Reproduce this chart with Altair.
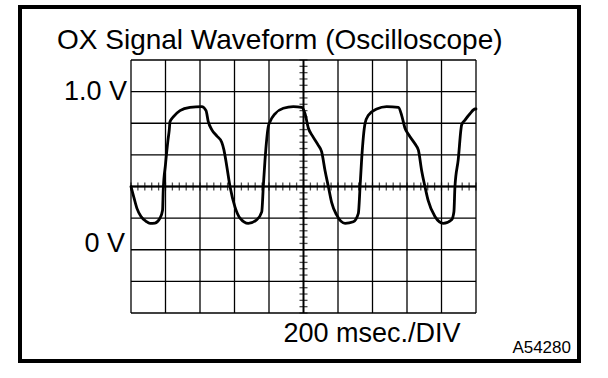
import altair as alt
import pandas as pd

# ---- data ----
time_ms = [0, 17, 35, 58, 87, 110, 139, 168, 183, 187,
           200, 214, 222, 226, 245, 284, 342, 410, 435, 448,
           468, 497, 526, 539, 555, 574, 603, 632, 680, 729,
           758, 767, 777, 796, 806, 835, 883, 941, 990, 1009,
           1028, 1052, 1086, 1105, 1125, 1144, 1163, 1192, 1241, 1289,
           1318, 1328, 1337, 1357, 1376, 1424, 1482, 1550, 1569, 1588,
           1608, 1646, 1666, 1685, 1704, 1723, 1762, 1810, 1859, 1872,
           1878, 1897, 1917, 1936, 1965, 1994, 2000]
volts = [0.40, 0.33, 0.26, 0.21, 0.18, 0.167, 0.169, 0.20, 0.25, 0.38,
         0.54, 0.69, 0.76, 0.81, 0.84, 0.88, 0.90, 0.905, 0.88, 0.81,
         0.76, 0.72, 0.68, 0.63, 0.53, 0.40, 0.27, 0.20, 0.167, 0.19,
         0.24, 0.40, 0.57, 0.78, 0.81, 0.86, 0.895, 0.905, 0.90, 0.86,
         0.77, 0.72, 0.66, 0.62, 0.50, 0.40, 0.30, 0.22, 0.167, 0.177,
         0.23, 0.40, 0.57, 0.80, 0.85, 0.89, 0.905, 0.90, 0.85, 0.77,
         0.73, 0.67, 0.63, 0.50, 0.40, 0.31, 0.21, 0.167, 0.19, 0.24,
         0.40, 0.57, 0.79, 0.82, 0.86, 0.89, 0.89]

x_grid = [0, 200, 400, 600, 800, 1000, 1200, 1400, 1600, 1800, 2000]
y_grid = [-0.4, -0.2, 0.0, 0.2, 0.4, 0.6, 0.8, 1.0, 1.2]
x_minor = [i * 40 for i in range(51)]
y_minor = [round(-0.4 + 0.04 * i, 2) for i in range(41)]
center_t = 1000
center_v = 0.4

title_text = "OX Signal Waveform (Oscilloscope)"
volt_labels = ["1.0 V", "0 V"]
volt_label_values = [1.0, 0.0]
time_div_label = "200 msec./DIV"
figure_code = "A54280"

FONT = "Liberation Sans"
xs = alt.Scale(domain=[0, 2000], nice=False, zero=False)
ys = alt.Scale(domain=[-0.4, 1.2], nice=False, zero=False)

wave = pd.DataFrame({"t": time_ms, "v": volts})
one = pd.DataFrame({"a": [0]})

vgrid = alt.Chart(pd.DataFrame({"t": x_grid})).mark_rule(
    color="black", strokeWidth=1.3
).encode(x=alt.X("t:Q", scale=xs, axis=None))

hgrid = alt.Chart(pd.DataFrame({"v": y_grid})).mark_rule(
    color="black", strokeWidth=1.3
).encode(y=alt.Y("v:Q", scale=ys, axis=None))

center_lines_v = alt.Chart(pd.DataFrame({"t": [center_t]})).mark_rule(
    color="black", strokeWidth=1.8
).encode(x=alt.X("t:Q", scale=xs, axis=None))

center_lines_h = alt.Chart(pd.DataFrame({"v": [center_v]})).mark_rule(
    color="black", strokeWidth=1.8
).encode(y=alt.Y("v:Q", scale=ys, axis=None))

ticks_h = alt.Chart(pd.DataFrame({"t": x_minor, "v": [center_v] * len(x_minor)})).mark_tick(
    orient="vertical", size=8, thickness=1.3, color="black"
).encode(x=alt.X("t:Q", scale=xs, axis=None), y=alt.Y("v:Q", scale=ys, axis=None))

ticks_v = alt.Chart(pd.DataFrame({"v": y_minor, "t": [center_t] * len(y_minor)})).mark_tick(
    orient="horizontal", size=8, thickness=1.3, color="black"
).encode(x=alt.X("t:Q", scale=xs, axis=None), y=alt.Y("v:Q", scale=ys, axis=None))

line = alt.Chart(wave).mark_line(
    color="black", strokeWidth=2.8, interpolate="monotone",
    strokeCap="round", strokeJoin="round"
).encode(x=alt.X("t:Q", scale=xs, axis=None), y=alt.Y("v:Q", scale=ys, axis=None))

vlab_df = pd.DataFrame({"label": volt_labels, "v": volt_label_values,
                        "dy": [0, -6]})
vlab1 = alt.Chart(vlab_df.iloc[[0]]).mark_text(
    font=FONT, fontSize=27, align="right", baseline="middle", color="black"
).encode(x=alt.value(-4), y=alt.Y("v:Q", scale=ys, axis=None), text="label:N")
vlab0 = alt.Chart(vlab_df.iloc[[1]]).mark_text(
    font=FONT, fontSize=27, align="right", baseline="middle", color="black", dy=-6
).encode(x=alt.value(-6), y=alt.Y("v:Q", scale=ys, axis=None), text="label:N")

title = alt.Chart(pd.DataFrame({"label": [title_text]})).mark_text(
    font=FONT, fontSize=28, align="left", baseline="alphabetic", color="black"
).encode(x=alt.value(-74), y=alt.value(-11.5), text="label:N")

tdiv = alt.Chart(pd.DataFrame({"label": [time_div_label]})).mark_text(
    font=FONT, fontSize=27, align="center", baseline="alphabetic", color="black"
).encode(x=alt.value(241), y=alt.value(281.5), text="label:N")

code = alt.Chart(pd.DataFrame({"label": [figure_code]})).mark_text(
    font=FONT, fontSize=17, align="right", baseline="alphabetic", color="black"
).encode(x=alt.value(440), y=alt.value(293), text="label:N")

frame = alt.Chart(one).mark_rect(
    filled=False, stroke="black", strokeWidth=4
).encode(x=alt.value(-111), x2=alt.value(448), y=alt.value(-53), y2=alt.value(301))

chart = alt.layer(
    vgrid, hgrid, center_lines_v, center_lines_h, ticks_h, ticks_v, line,
    vlab1, vlab0, title, tdiv, code, frame
).properties(
    width=345, height=253,
    padding={"left": 131, "top": 60, "right": 132, "bottom": 65},
    autosize=alt.AutoSizeParams(type="none"),
    background="white",
).configure_view(stroke=None)

chart.save("out.html", embed_options={"renderer": "svg", "actions": False})
